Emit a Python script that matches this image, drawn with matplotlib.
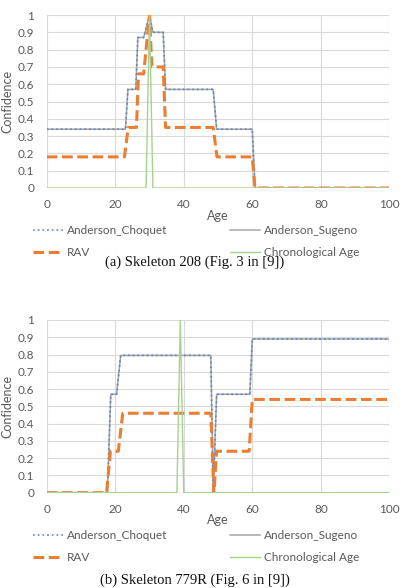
import matplotlib

matplotlib.use("Agg")
import matplotlib.pyplot as plt

# ---- data (age, confidence) ----
# (a) Skeleton 208
a_sug_age = [0, 23, 23.7, 26, 26.6, 28.3, 30, 31, 34, 34.7, 48.6, 49.6, 60, 60.8, 100]
a_sug_val = [0.34, 0.34, 0.57, 0.57, 0.87, 0.87, 1.0, 0.9, 0.9, 0.57, 0.57, 0.34, 0.34, 0.0, 0.0]
a_cho_age = a_sug_age
a_cho_val = a_sug_val
a_rav_age = [0, 22.7, 23.8, 26.2, 26.8, 28.3, 30, 30.7, 34, 34.7, 48.6, 49.7, 60, 60.8, 100]
a_rav_val = [0.18, 0.18, 0.35, 0.35, 0.66, 0.66, 1.0, 0.7, 0.7, 0.35, 0.35, 0.18, 0.18, 0.0, 0.0]
a_chr_age = [0, 29, 30, 31, 100]
a_chr_val = [0, 0, 1, 0, 0]

# (b) Skeleton 779R
b_sug_age = [0, 17.7, 18.7, 20.4, 21.6, 47.9, 48.6, 49.6, 59.3, 60, 100]
b_sug_val = [0.0, 0.0, 0.57, 0.57, 0.795, 0.795, 0.0, 0.57, 0.57, 0.89, 0.89]
b_cho_age = b_sug_age
b_cho_val = b_sug_val
b_rav_age = [0, 17.5, 18.6, 20.9, 22.2, 47.9, 48.8, 49.6, 59.1, 60, 100]
b_rav_val = [0.0, 0.0, 0.24, 0.24, 0.46, 0.46, 0.0, 0.24, 0.24, 0.54, 0.54]
b_chr_age = [0, 38, 39, 40, 100]
b_chr_val = [0, 0, 1, 0, 0]

captions = ["(a) Skeleton 208 (Fig. 3 in [9])", "(b) Skeleton 779R (Fig. 6 in [9])"]
x_ticks = [0, 20, 40, 60, 80, 100]
y_ticks = [0, 0.1, 0.2, 0.3, 0.4, 0.5, 0.6, 0.7, 0.8, 0.9, 1]

panels = [
    (a_cho_age, a_cho_val, a_sug_age, a_sug_val, a_rav_age, a_rav_val, a_chr_age, a_chr_val),
    (b_cho_age, b_cho_val, b_sug_age, b_sug_val, b_rav_age, b_rav_val, b_chr_age, b_chr_val),
]

plt.rcParams["font.family"] = ["Lato", "DejaVu Sans"]
TXT = "#595959"

fig = plt.figure(figsize=(4.06, 5.88), dpi=100)
W, H = 406.0, 588.0
axes_px = [(46.7, 15.0, 389.3, 188.0), (46.7, 320.0, 389.3, 492.7)]
caption_y = [262.0, 580.0]

for i, (px, data) in enumerate(zip(axes_px, panels)):
    x0, y0, x1, y1 = px
    ax = fig.add_axes([x0 / W, 1 - y1 / H, (x1 - x0) / W, (y1 - y0) / H])
    cho_x, cho_y, sug_x, sug_y, rav_x, rav_y, chr_x, chr_y = data

    ax.plot(sug_x, sug_y, color="#A5A5A5", lw=1.1, label="Anderson_Sugeno", zorder=3)
    ax.plot(cho_x, cho_y, color="#5b7bc0", lw=1.3, dashes=(1, 1.6), alpha=0.8,
            label="Anderson_Choquet", zorder=4)
    ax.plot(rav_x, rav_y, color="#ED7D31", lw=2.2, dashes=(3.5, 1.5), label="RAV", zorder=5)
    ax.plot(chr_x, chr_y, color="#A9D18E", lw=1.0, label="Chronological Age", zorder=6)

    ax.set_xlim(0, 100)
    ax.set_ylim(0, 1)
    ax.set_xticks(x_ticks)
    ax.set_yticks(y_ticks)
    ax.set_yticklabels(["0"] + [f"{v:g}" for v in y_ticks[1:]])
    ax.grid(True, color="#D9D9D9", lw=0.8)
    ax.set_axisbelow(True)
    for s in ax.spines.values():
        s.set_visible(False)
    ax.tick_params(length=0, labelsize=8.5, labelcolor=TXT)
    ax.tick_params(axis="y", pad=9)
    ax.tick_params(axis="x", pad=8)
    ax.set_ylabel("Confidence", fontsize=9, color=TXT)
    ax.yaxis.set_label_coords(-0.098, 0.5)
    ax.set_xlabel("Age", fontsize=9, color=TXT)
    ax.xaxis.set_label_coords(0.5, -0.125)

    h, l = ax.get_legend_handles_labels()
    order = [1, 2, 0, 3]  # Choquet, RAV | Sugeno, Chronological
    leg = ax.legend([h[k] for k in order], [l[k] for k in order], ncol=2,
                    loc="upper left", bbox_to_anchor=(-0.04, -0.215),
                    frameon=False, fontsize=8.5, handlelength=2.5,
                    handletextpad=0.4, columnspacing=5.3, labelspacing=0.95,
                    borderpad=0, borderaxespad=0)
    for t in leg.get_texts():
        t.set_color(TXT)

    fig.text(195 / W, 1 - caption_y[i] / H, captions[i], ha="center", va="center",
             fontsize=10.5, family="Liberation Serif", color="#111")

fig.savefig("out.png", dpi=100, facecolor="white")
